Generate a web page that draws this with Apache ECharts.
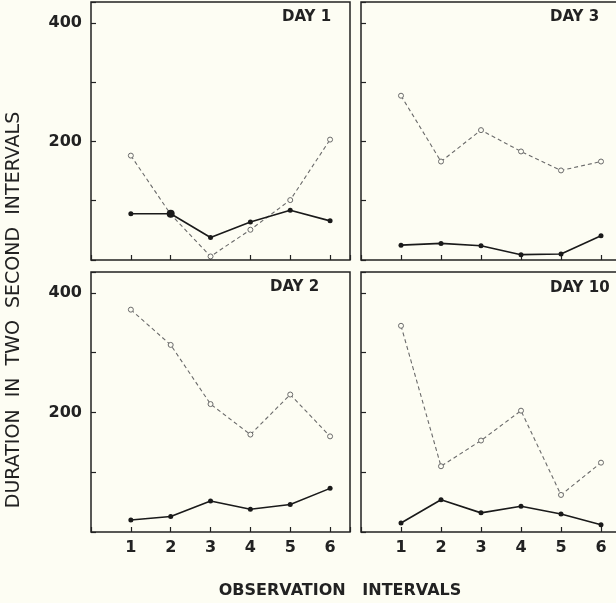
<!DOCTYPE html>
<html>
<head>
    <meta charset="UTF-8">
    <title>Duration in two second intervals</title>
    <script src="https://cdn.jsdelivr.net/npm/echarts@6/dist/echarts.min.js"></script>
    <style>
        html, body { margin: 0; padding: 0; background: #fdfdf3; }
        #main { width: 616px; height: 603px; }
    </style>
</head>
<body>
<div id="main"></div>
<script type="text/javascript">
    // observation intervals (x) and the two series of every panel
    var intervals = [1, 2, 3, 4, 5, 6];
    var day1Open = [176, 77, 6, 51, 101, 203];
    var day1Filled = [78, 78, 38, 64, 84, 66];
    var day3Open = [277, 166, 219, 183, 151, 166];
    var day3Filled = [25, 28, 24, 9, 10, 41];
    var day2Open = [372, 313, 214, 163, 230, 160];
    var day2Filled = [20, 26, 52, 38, 46, 73];
    var day10Open = [345, 110, 153, 203, 62, 116];
    var day10Filled = [15, 54, 32, 43, 30, 12];
    var yTickLabels = [200, 400];
    var panelTitles = ['DAY 1', 'DAY 3', 'DAY 2', 'DAY 10'];

    var ink = '#222';
    var font = 'DejaVu Sans';

    function pairs(vals) {
        return intervals.map(function (x, i) { return [x, vals[i]]; });
    }

    // panel boxes: top-left, top-right, bottom-left, bottom-right
    // (the right column runs past the edge of the page, as in the scan)
    var grids = [
        {left: 91, top: 2, width: 259, height: 258},
        {left: 361, top: 2, width: 260, height: 258},
        {left: 91, top: 272, width: 259, height: 260},
        {left: 361, top: 272, width: 260, height: 260}
    ];
    var openSets = [day1Open, day3Open, day2Open, day10Open];
    var filledSets = [day1Filled, day3Filled, day2Filled, day10Filled];
    var titlePos = [[282, 17], [550, 17], [270, 287], [550, 288]];

    var xAxes = [], yAxes = [], series = [], graphics = [];
    grids.forEach(function (g, k) {
        g.show = true;
        g.borderColor = ink;
        g.borderWidth = 1.5;
        g.backgroundColor = 'transparent';
        g.outerBoundsMode = 'none';
        g.containLabel = false;
        var bottomRow = k >= 2;
        var leftCol = k % 2 === 0;
        xAxes.push({
            type: 'value', gridIndex: k, min: 0, max: 6.5, interval: 1,
            axisLine: {show: false},
            splitLine: {show: false},
            axisTick: {show: true, inside: true, length: 5, lineStyle: {color: ink, width: 1.2}},
            axisLabel: {
                show: bottomRow, margin: 8,
                color: ink, fontFamily: font, fontWeight: 'bold', fontSize: 16,
                formatter: function (v) { return intervals.indexOf(v) >= 0 ? v : ''; }
            }
        });
        yAxes.push({
            type: 'value', gridIndex: k, min: 0, max: 435, interval: 100,
            axisLine: {show: false},
            splitLine: {show: false},
            axisTick: {show: true, inside: true, length: 5, lineStyle: {color: ink, width: 1.2}},
            axisLabel: {
                show: leftCol, margin: 9,
                color: ink, fontFamily: font, fontWeight: 'bold', fontSize: 16,
                formatter: function (v) { return yTickLabels.indexOf(v) >= 0 ? v : ''; }
            }
        });
        series.push({
            type: 'line', xAxisIndex: k, yAxisIndex: k,
            data: pairs(openSets[k]),
            symbol: 'circle', symbolSize: 5,
            lineStyle: {color: '#6a6a6a', width: 1.1, type: [4, 3]},
            itemStyle: {color: '#fdfdf3', borderColor: '#6a6a6a', borderWidth: 1},
            z: 2
        });
        series.push({
            type: 'line', xAxisIndex: k, yAxisIndex: k,
            data: pairs(filledSets[k]),
            symbol: 'circle',
            // day 1, interval 2: the two markers overlap into a larger dot
            symbolSize: function (v, p) { return (k === 0 && p.dataIndex === 1) ? 8 : 5; },
            lineStyle: {color: '#1a1a1a', width: 1.6},
            itemStyle: {color: '#1a1a1a'},
            z: 3
        });
        graphics.push({
            type: 'text', x: titlePos[k][0], y: titlePos[k][1],
            style: {
                text: panelTitles[k], fill: ink, font: 'bold 15px "' + font + '"',
                align: 'left', verticalAlign: 'middle'
            }
        });
    });

    graphics.push({
        type: 'text', x: 14, y: 310, rotation: Math.PI / 2,
        style: {
            text: 'DURATION  IN  TWO  SECOND  INTERVALS', fill: ink,
            font: '19px "' + font + '"', align: 'center', verticalAlign: 'middle'
        }
    });
    graphics.push({
        type: 'text', x: 340, y: 591,
        style: {
            text: 'OBSERVATION   INTERVALS', fill: ink,
            font: 'bold 16px "' + font + '"', align: 'center', verticalAlign: 'middle'
        }
    });

    var myChart = echarts.init(document.getElementById('main'));
    myChart.setOption({
        animation: false,
        backgroundColor: '#fdfdf3',
        grid: grids,
        xAxis: xAxes,
        yAxis: yAxes,
        series: series,
        graphic: graphics
    });
</script>
</body>
</html>
